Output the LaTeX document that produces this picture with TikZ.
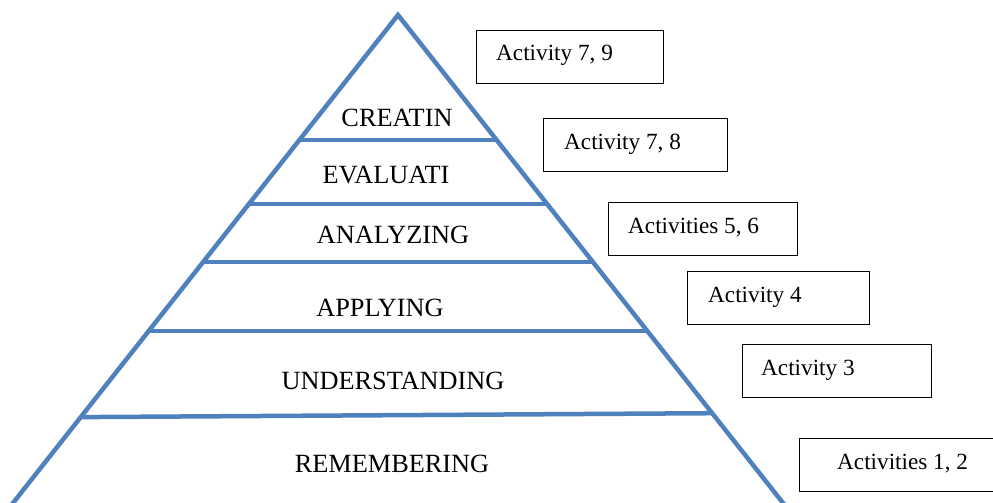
\documentclass[tikz,border=0pt]{standalone}
\usepackage{fontspec}
\setmainfont{Liberation Serif}
\usetikzlibrary{calc}
\definecolor{pyrblue}{RGB}{79,129,189}

\begin{document}
\begin{tikzpicture}[x=1pt,y=-1pt]
    \tikzstyle{side}=[draw=pyrblue, line width=4.5pt]
    \tikzstyle{level label}=[inner sep=0pt, font=\fontsize{26.3}{31}\selectfont]
    \tikzstyle{activity box}=[draw=black, line width=1pt, anchor=north west, minimum height=52.5pt, inner sep=0pt]
    \tikzstyle{activity text}=[anchor=base west, inner sep=0pt, font=\fontsize{23.2}{28}\selectfont]

    \useasboundingbox (0,0) rectangle (993,503);
    \clip (0,0) rectangle (993,503);

    % Corners of the pyramid
    \coordinate (top) at (398,15);
    \coordinate (bl) at (13,503);
    \coordinate (br) at (783,503);

    % Draw the two sides
    \draw[side] ($(top)!1.05!(bl)$) -- (top) -- ($(top)!1.05!(br)$);

    % Draw the lines between the levels
    \foreach \l/\r in {0.256/0.256, 0.387/0.387, 0.506/0.506, 0.648/0.648, 0.824/0.816}
        \draw[side] ($(top)!\l!(bl)$) -- ($(top)!\r!(br)$);

    % Name the levels
    \foreach \name/\x/\y/\txt in {cre/397/118/CREATIN, eva/386/175/EVALUATI,
        ana/393/235/ANALYZING, app/380/308/APPLYING,
        und/393/381/UNDERSTANDING, rem/392/464/REMEMBERING}
        \node[level label] (lvl-\name) at (\x,\y) {\txt};

    % Draw the activity boxes
    \foreach \name/\x/\y/\w/\dx/\txt in {a/476/30/187/20/{Activity 7, 9},
        b/543/118/184/21/{Activity 7, 8}, c/608/202/189/20/{Activities 5, 6},
        d/687/271/182/21/{Activity 4}, e/742/344/189/19/{Activity 3},
        f/799/438/220/38/{Activities 1, 2}}
    {
        \node[activity box, minimum width=\w pt] (box-\name) at (\x,\y) {};
        \node[activity text] (act-\name) at ($(box-\name.north west)+(\dx,31)$) {\txt};
    }

\end{tikzpicture}
\end{document}
